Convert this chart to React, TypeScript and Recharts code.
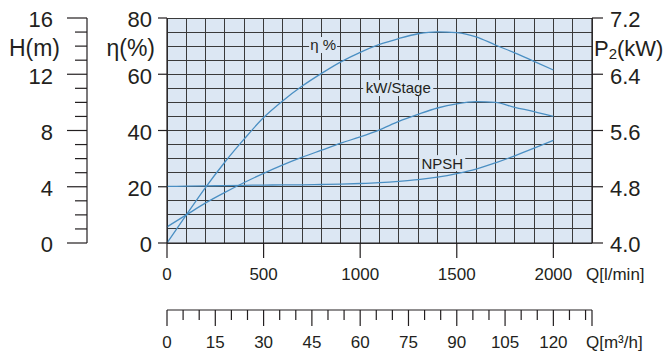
import { LineChart, Line, XAxis, YAxis, CartesianGrid, ReferenceDot } from 'recharts'

const flowLpm = [0, 100, 200, 300, 400, 500, 600, 700, 800, 900, 1000, 1100, 1200, 1300, 1400, 1500, 1600, 1700, 1800, 1900, 2000]
const efficiencyPct = [0, 10, 19.8, 28.8, 37, 44.6, 50.6, 55.8, 60.3, 64.4, 67.8, 70.6, 72.7, 74.4, 75.1, 74.8, 73.3, 70.4, 67.6, 64.6, 61.5]
const powerKw = [4.23, 4.4, 4.57, 4.72, 4.86, 4.99, 5.11, 5.22, 5.32, 5.42, 5.51, 5.61, 5.73, 5.83, 5.92, 5.98, 6.01, 6.0, 5.93, 5.87, 5.8]
const npshM = [4.02, 4.04, 4.06, 4.08, 4.1, 4.12, 4.13, 4.14, 4.16, 4.19, 4.23, 4.29, 4.38, 4.5, 4.68, 4.93, 5.25, 5.7, 6.2, 6.74, 7.3]

// tick positions (grid follows flow + head ticks)
const flowTicks = [0, 100, 200, 300, 400, 500, 600, 700, 800, 900, 1000, 1100, 1200, 1300, 1400, 1500, 1600, 1700, 1800, 1900, 2000, 2100, 2200]
const flowLabelled = [0, 500, 1000, 1500, 2000]
const headTicks = [0, 1, 2, 3, 4, 5, 6, 7, 8, 9, 10, 11, 12, 13, 14, 15, 16]
const headLabelled = [0, 4, 8, 12, 16]
const etaTicks = [0, 20, 40, 60, 70, 80]
const powerTicks = [4.0, 4.8, 5.6, 6.4, 6.8, 7.2]
const cubicTicks = [0, 5, 10, 15, 20, 25, 30, 35, 40, 45, 50, 55, 60, 65, 70, 75, 80, 85, 90, 95, 100, 105, 110, 115, 120, 125, 130, 132]
const cubicLabelled = [0, 15, 30, 45, 60, 75, 90, 105, 120]

const data = flowLpm.map((q, i) => ({ q, eta: efficiencyPct[i], kw: powerKw[i], npsh: npshM[i] }))

const INK = '#231f20'
const CURVE = '#4a8fc3'
const PANEL = '#dce7f3'
const GRID = '#3a3a3a'
const FONT = '"Liberation Sans", Arial, Helvetica, sans-serif'

function HeadTick({ x, y, payload }: any) {
  const v = payload.value
  const major = headLabelled.includes(v)
  return (
    <g>
      <line x1={x - (major ? 20 : 12)} x2={x} y1={y} y2={y} stroke={INK} strokeWidth={1.2} />
      {major && (
        <text x={x - 34} y={y} dy="0.43em" textAnchor="end" fontSize={22} fill={INK} fontFamily={FONT}>{v}</text>
      )}
      {v === 14 && (
        <text x={x - 27} y={y} dy="0.43em" textAnchor="end" fontSize={23} fill={INK} fontFamily={FONT}>H(m)</text>
      )}
    </g>
  )
}

function EtaTick({ x, y, payload }: any) {
  const v = payload.value
  if (v === 70) {
    return <text x={x - 12} y={y} dy="0.43em" textAnchor="end" fontSize={23} fill={INK} fontFamily={FONT}>η(%)</text>
  }
  return (
    <g>
      <line x1={x - 9} x2={x} y1={y} y2={y} stroke={INK} strokeWidth={1.2} />
      <text x={x - 15} y={y} dy="0.43em" textAnchor="end" fontSize={22} fill={INK} fontFamily={FONT}>{v}</text>
    </g>
  )
}

function PowerTick({ x, y, payload }: any) {
  const v = payload.value
  if (Math.abs(v - 6.8) < 0.01) {
    return (
      <text x={x + 2} y={y} dy="0.43em" fontSize={22} fill={INK} fontFamily={FONT}>
        P<tspan fontSize={15} dy="3">2</tspan><tspan dy="-3">(kW)</tspan>
      </text>
    )
  }
  return (
    <g>
      <line x1={x} x2={x + 11} y1={y} y2={y} stroke={INK} strokeWidth={1.2} />
      <text x={x + 18} y={y} dy="0.43em" fontSize={22} fill={INK} fontFamily={FONT}>{v.toFixed(1)}</text>
    </g>
  )
}

function FlowTick({ x, y, payload }: any) {
  const v = payload.value
  if (v === 2200) {
    return <text x={x - 6} y={y + 37} fontSize={17} fill={INK} fontFamily={FONT}>Q[l/min]</text>
  }
  if (!flowLabelled.includes(v)) return <g />
  return (
    <g>
      <line x1={x} x2={x} y1={y} y2={y + 15} stroke={INK} strokeWidth={1.2} />
      <text x={x} y={y + 37} textAnchor="middle" fontSize={17} fill={INK} fontFamily={FONT}>{v}</text>
    </g>
  )
}

function CubicTick({ x, y, payload }: any) {
  const v = payload.value
  const major = cubicLabelled.includes(v) || v === 132
  return (
    <g>
      <line x1={x} x2={x} y1={y} y2={y + (major ? 16 : 10)} stroke={INK} strokeWidth={1.2} />
      {cubicLabelled.includes(v) && (
        <text x={x} y={y + 38} textAnchor="middle" fontSize={17} fill={INK} fontFamily={FONT}>{v}</text>
      )}
      {v === 132 && (
        <text x={x - 6} y={y + 38} fontSize={17} fill={INK} fontFamily={FONT}>Q[m³/h]</text>
      )}
    </g>
  )
}

function CurveTag({ cx, cy, text, w }: any) {
  return (
    <g>
      <rect x={cx - w / 2} y={cy - 8} width={w} height={16} fill={PANEL} />
      <text x={cx} y={cy} dy="0.36em" textAnchor="middle" fontSize={15} fill={INK} fontFamily={FONT}>{text}</text>
    </g>
  )
}

// l/min -> m3/h, only used to bind the second flow axis
const toCubic = (row: any) => (row.q * 60) / 1000

export default function App() {
  return (
    <div style={{ width: 672, height: 354, fontFamily: FONT }}>
      <style>{'body{margin:0} .recharts-cartesian-grid line{shape-rendering:crispEdges}'}</style>
      <LineChart width={672} height={354} data={data} margin={{ top: 18, right: 0, bottom: 0, left: 0 }}>
        <CartesianGrid xAxisId="f1" yAxisId="h" stroke={GRID} strokeWidth={1} fill={PANEL} fillOpacity={1} />
        <XAxis xAxisId="f1" dataKey="q" type="number" domain={[0, 2200]} ticks={flowTicks} interval={0}
          height={67} tickSize={0} tickMargin={0} tickLine={false} axisLine={{ stroke: INK, strokeWidth: 1.2 }} tick={FlowTick} />
        <XAxis xAxisId="f2" dataKey={toCubic} type="number" domain={[0, 132]} allowDataOverflow ticks={cubicTicks} interval={0}
          height={44} tickSize={0} tickMargin={0} tickLine={false} axisLine={{ stroke: INK, strokeWidth: 1.2 }} tick={CubicTick} />
        <YAxis yAxisId="eta" orientation="left" type="number" domain={[0, 80]} ticks={etaTicks} interval={0}
          width={80} tickSize={0} tickMargin={0} tickLine={false} axisLine={{ stroke: INK, strokeWidth: 1.2 }} tick={EtaTick} />
        <YAxis yAxisId="h" orientation="left" type="number" domain={[0, 16]} ticks={headTicks} interval={0}
          width={87} tickSize={0} tickMargin={0} tickLine={false} axisLine={{ stroke: INK, strokeWidth: 1.2 }} tick={HeadTick} />
        <YAxis yAxisId="p2" orientation="right" type="number" domain={[4, 7.2]} ticks={powerTicks} interval={0}
          width={80} tickSize={0} tickMargin={0} tickLine={false} axisLine={{ stroke: INK, strokeWidth: 1.2 }} tick={PowerTick} />
        <Line xAxisId="f1" yAxisId="eta" type="monotone" dataKey="eta" stroke={CURVE} strokeWidth={1.3} dot={false} isAnimationActive={false} />
        <Line xAxisId="f1" yAxisId="p2" type="monotone" dataKey="kw" stroke={CURVE} strokeWidth={1.3} dot={false} isAnimationActive={false} />
        <Line xAxisId="f1" yAxisId="h" type="monotone" dataKey="npsh" stroke={CURVE} strokeWidth={1.3} dot={false} isAnimationActive={false} />
        <Line xAxisId="f2" yAxisId="h" type="monotone" dataKey="npsh" stroke="none" dot={false} activeDot={false} isAnimationActive={false} />
        <ReferenceDot xAxisId="f1" yAxisId="eta" x={808} y={70.4} r={0}
          shape={(p: any) => <CurveTag cx={p.cx} cy={p.cy} text="η %" w={28} />} />
        <ReferenceDot xAxisId="f1" yAxisId="eta" x={1197} y={55.1} r={0}
          shape={(p: any) => <CurveTag cx={p.cx} cy={p.cy} text="kW/Stage" w={70} />} />
        <ReferenceDot xAxisId="f1" yAxisId="eta" x={1425} y={28.4} r={0}
          shape={(p: any) => <CurveTag cx={p.cx} cy={p.cy} text="NPSH" w={46} />} />
      </LineChart>
    </div>
  )
}
